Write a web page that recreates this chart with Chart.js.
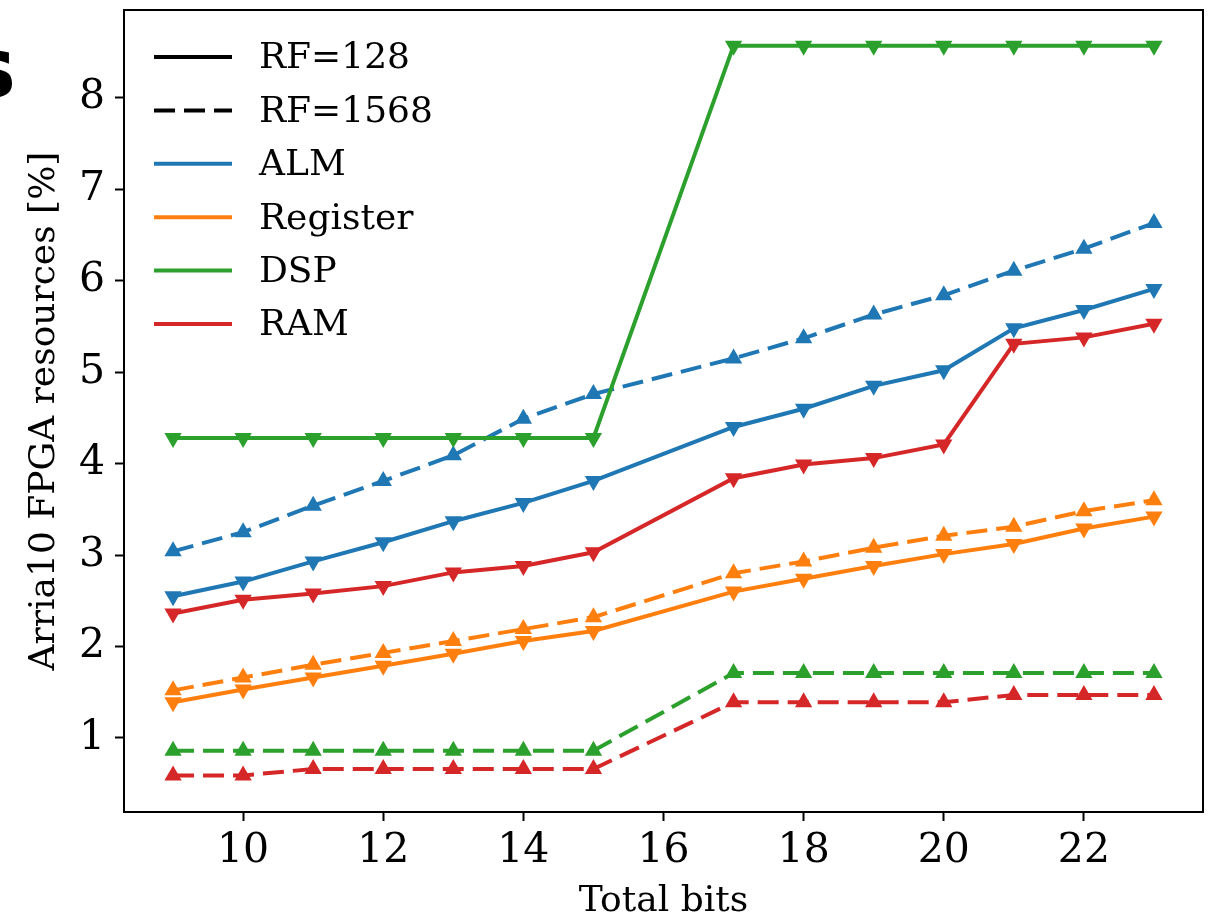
<!doctype html>
<html lang="en">
<head>
<meta charset="utf-8">
<title>Arria10 FPGA resources</title>
<script src="https://cdn.jsdelivr.net/npm/chart.js@4.4.0/dist/chart.umd.min.js"></script>
<style>
  html, body { margin: 0; padding: 0; background: #fff; }
  #wrap { position: relative; width: 1214px; height: 915px; overflow: hidden; }
  #panel { position: absolute; left: -34px; top: 19px; font: bold 84px "DejaVu Sans"; color: #000; line-height: normal; }
</style>
</head>
<body>
<div id="wrap">
  <canvas id="fpga" width="1214" height="915"></canvas>
  <div id="panel">s</div>
</div>

<script>
// total bits on the x axis
var bits = [9, 10, 11, 12, 13, 14, 15, 17, 18, 19, 20, 21, 22, 23];

// RF=128 (solid, down triangles)
var alm128 = [2.55, 2.71, 2.93, 3.14, 3.37, 3.57, 3.81, 4.40, 4.60, 4.85, 5.02, 5.48, 5.68, 5.91];
var reg128 = [1.39, 1.53, 1.66, 1.79, 1.92, 2.06, 2.17, 2.60, 2.74, 2.88, 3.01, 3.12, 3.29, 3.42];
var dsp128 = [4.28, 4.28, 4.28, 4.28, 4.28, 4.28, 4.28, 8.57, 8.57, 8.57, 8.57, 8.57, 8.57, 8.57];
var ram128 = [2.36, 2.51, 2.58, 2.66, 2.81, 2.88, 3.03, 3.84, 3.99, 4.06, 4.21, 5.31, 5.38, 5.53];

// RF=1568 (dashed, up triangles)
var alm1568 = [3.04, 3.25, 3.54, 3.81, 4.09, 4.49, 4.76, 5.15, 5.37, 5.63, 5.84, 6.11, 6.35, 6.63];
var reg1568 = [1.52, 1.66, 1.80, 1.93, 2.06, 2.19, 2.32, 2.80, 2.93, 3.08, 3.21, 3.31, 3.48, 3.60];
var dsp1568 = [0.86, 0.86, 0.86, 0.86, 0.86, 0.86, 0.86, 1.71, 1.71, 1.71, 1.71, 1.71, 1.71, 1.71];
var ram1568 = [0.59, 0.59, 0.66, 0.66, 0.66, 0.66, 0.66, 1.39, 1.39, 1.39, 1.39, 1.47, 1.47, 1.47];

var xTicks = [10, 12, 14, 16, 18, 20, 22];
var yTicks = [1, 2, 3, 4, 5, 6, 7, 8];

var legendNames = ['RF=128', 'RF=1568', 'ALM', 'Register', 'DSP', 'RAM'];

var blue = '#1f77b4', orange = '#ff7f0e', green = '#2ca02c', red = '#d62728';
var dash = [21, 9];

function pts(ys) {
  return bits.map(function (b, i) { return { x: b, y: ys[i] }; });
}

function series(label, ys, color, dashed) {
  return {
    label: label,
    data: pts(ys),
    borderColor: color,
    backgroundColor: color,
    borderWidth: 4,
    borderDash: dashed ? dash : [],
    pointStyle: 'triangle',
    pointRotation: dashed ? 0 : 180,
    pointRadius: 10,
    pointHoverRadius: 10,
    pointBorderWidth: 0,
    tension: 0,
    fill: false
  };
}

// box around the plot and the legend in the top-left corner
var framePlugin = {
  id: 'frame',
  afterDraw: function (chart) {
    var c = chart.ctx, a = chart.chartArea;
    c.save();
    c.strokeStyle = '#000';
    c.lineWidth = 2;
    c.strokeRect(a.left, a.top, a.right - a.left, a.bottom - a.top);

    var colors = ['#000', '#000', blue, orange, green, red];
    c.font = '36px "DejaVu Serif"';
    c.textBaseline = 'middle';
    for (var i = 0; i < legendNames.length; i++) {
      var y = a.top + 47 + i * 53.4;
      c.beginPath();
      c.strokeStyle = colors[i];
      c.lineWidth = 4;
      c.setLineDash(i == 1 ? dash : []);
      c.moveTo(a.left + 30, y);
      c.lineTo(a.left + 108, y);
      c.stroke();
      c.setLineDash([]);
      c.fillStyle = '#000';
      c.fillText(legendNames[i], a.left + 135, y + 2);
    }
    c.restore();
  }
};

var chart = new Chart(document.getElementById('fpga'), {
  type: 'line',
  data: {
    datasets: [
      series('ALM 128', alm128, blue, false),
      series('Register 128', reg128, orange, false),
      series('DSP 128', dsp128, green, false),
      series('RAM 128', ram128, red, false),
      series('ALM 1568', alm1568, blue, true),
      series('Register 1568', reg1568, orange, true),
      series('DSP 1568', dsp1568, green, true),
      series('RAM 1568', ram1568, red, true)
    ]
  },
  options: {
    responsive: false,
    animation: false,
    events: [],
    layout: { padding: { top: 8, right: 11, left: 0, bottom: 0 } },
    plugins: { legend: { display: false }, tooltip: { enabled: false } },
    scales: {
      x: {
        type: 'linear',
        min: 8.3,
        max: 23.7,
        afterBuildTicks: function (s) { s.ticks = xTicks.map(function (v) { return { value: v }; }); },
        afterFit: function (s) { s.height = 103; s.paddingLeft = 0; s.paddingRight = 0; },
        border: { display: false },
        grid: { drawOnChartArea: false, drawTicks: true, tickLength: 9, tickWidth: 2, tickColor: '#000' },
        ticks: { color: '#000', font: { family: 'DejaVu Serif', size: 41 }, padding: 6, maxRotation: 0 },
        title: { display: true, text: 'Total bits', color: '#000', font: { family: 'DejaVu Serif', size: 36 }, padding: { top: 0, bottom: -8 } }
      },
      y: {
        min: 0.19,
        max: 8.96,
        afterBuildTicks: function (s) { s.ticks = yTicks.map(function (v) { return { value: v }; }); },
        afterFit: function (s) { s.width = 124; s.paddingTop = 0; s.paddingBottom = 0; },
        border: { display: false },
        grid: { drawOnChartArea: false, drawTicks: true, tickLength: 9, tickWidth: 2, tickColor: '#000' },
        ticks: { color: '#000', font: { family: 'DejaVu Serif', size: 41 }, padding: 10 },
        title: { display: true, text: 'Arria10 FPGA resources [%]', color: '#000', font: { family: 'DejaVu Serif', size: 36 }, padding: { top: 23, bottom: 0 } }
      }
    }
  },
  plugins: [framePlugin]
});
</script>
</body>
</html>
